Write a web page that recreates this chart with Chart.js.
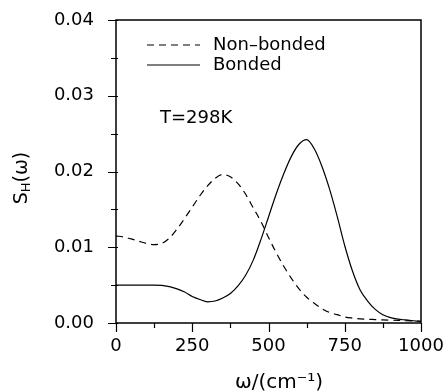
<!DOCTYPE html>
<html>
<head>
<meta charset="utf-8">
<script src="https://cdn.jsdelivr.net/npm/chart.js@4"></script>
<style>
  html, body { margin: 0; padding: 0; background: #fff; }
  #wrap { width: 443px; height: 391px; }
</style>
</head>
<body>
<div id="wrap"><canvas id="spec"></canvas></div>
<script>
// omega in cm^-1
var omega = [0, 25, 50, 75, 100, 125, 150, 175, 200, 225, 250, 275, 300, 325, 350, 375, 400,
  425, 450, 475, 500, 525, 550, 575, 600, 625, 650, 675, 700, 725, 750, 775, 800,
  825, 850, 875, 900, 925, 950, 975, 1000];

var nonBonded = [0.0115, 0.01135, 0.0111, 0.0108, 0.0105, 0.01035, 0.0105, 0.0112, 0.0124, 0.0138,
  0.0153, 0.0168, 0.0181, 0.0191, 0.0196, 0.0193, 0.0184, 0.0170, 0.0152, 0.0134,
  0.0113, 0.0093, 0.0075, 0.0059, 0.0045, 0.0034, 0.0026, 0.0019, 0.0014, 0.0011,
  0.0008, 0.00065, 0.00055, 0.0005, 0.00045, 0.0004, 0.00037, 0.00035, 0.0003, 0.00027, 0.00025];

var bonded = [0.0050, 0.0050, 0.0050, 0.0050, 0.0050, 0.0050, 0.00498, 0.0048, 0.0045, 0.0041,
  0.0035, 0.0031, 0.0028, 0.0029, 0.0033, 0.0039, 0.0049, 0.0063, 0.0083, 0.0110,
  0.0140, 0.0170, 0.0197, 0.0220, 0.0236, 0.0242, 0.0230, 0.0207, 0.0177, 0.0141,
  0.0102, 0.0069, 0.0044, 0.0029, 0.0018, 0.0011, 0.0007, 0.0005, 0.0004, 0.0003, 0.0002];

var yTicks = [0, 0.01, 0.02, 0.03, 0.04];
var xTicks = [0, 250, 500, 750, 1000];

var FONT = 'DejaVu Sans';

function pts(ys) {
  return omega.map(function (w, i) { return { x: w, y: ys[i] }; });
}

function noPad(s) {
  s.paddingTop = 0; s.paddingBottom = 0; s.paddingLeft = 0; s.paddingRight = 0;
}

var extras = {
  id: 'extras',
  afterDraw: function (chart) {
    var c = chart.ctx, a = chart.chartArea;
    var xs = chart.scales.x, ys = chart.scales.y;
    c.save();
    c.strokeStyle = '#000';
    c.lineWidth = 1.5;
    c.strokeRect(a.left, a.top, a.right - a.left, a.bottom - a.top);

    // tick marks
    c.lineWidth = 1.2;
    c.beginPath();
    for (var v = 0; v <= 0.04001; v += 0.005) {
      var py = Math.round(ys.getPixelForValue(v)) + 0.5;
      var major = Math.abs(v / 0.01 - Math.round(v / 0.01)) < 1e-6;
      c.moveTo(a.left - (major ? 8 : 5), py);
      c.lineTo(a.left + 2, py);
    }
    for (var w = 0; w <= 1000; w += 125) {
      var px = Math.round(xs.getPixelForValue(w)) + 0.5;
      c.moveTo(px, a.bottom);
      c.lineTo(px, a.bottom + (w % 250 === 0 ? 9 : 5));
    }
    c.stroke();

    // legend
    c.fillStyle = '#000';
    c.font = '18px "' + FONT + '"';
    c.textBaseline = 'middle';
    c.textAlign = 'left';
    chart.data.datasets.forEach(function (ds, i) {
      var ly = 45 + i * 20;
      c.setLineDash(ds.borderDash || []);
      c.lineWidth = ds.borderWidth;
      c.beginPath();
      c.moveTo(147, ly);
      c.lineTo(200, ly);
      c.stroke();
      c.setLineDash([]);
      c.fillText(ds.label, 213, ly);
    });

    c.fillText('T=298K', 160, 118);

    // x title
    c.font = '20px "' + FONT + '"';
    c.textAlign = 'center';
    c.fillText('\u03c9/(cm\u207b\u00b9)', 279, 383);

    // y title, rotated, with subscript
    c.translate(22, 178);
    c.rotate(-Math.PI / 2);
    c.textAlign = 'left';
    var s = 'S', h = 'H', tail = '(\u03c9)';
    c.font = '19px "' + FONT + '"';
    var ws = c.measureText(s).width;
    c.font = '13px "' + FONT + '"';
    var wh = c.measureText(h).width;
    c.font = '19px "' + FONT + '"';
    var wt = c.measureText(tail).width;
    var x0 = -(ws + wh + wt) / 2;
    c.fillText(s, x0, 0);
    c.font = '13px "' + FONT + '"';
    c.fillText(h, x0 + ws, 5);
    c.font = '19px "' + FONT + '"';
    c.fillText(tail, x0 + ws + wh, 0);
    c.restore();
  }
};

var ctx = document.getElementById('spec').getContext('2d');
var chart = new Chart(ctx, {
  type: 'line',
  data: {
    datasets: [{
      label: 'Non\u2013bonded',
      data: pts(nonBonded),
      borderColor: '#000',
      borderWidth: 1.2,
      borderDash: [7, 5],
      pointRadius: 0,
      fill: false,
      cubicInterpolationMode: 'monotone'
    }, {
      label: 'Bonded',
      data: pts(bonded),
      borderColor: '#000',
      borderWidth: 1.2,
      pointRadius: 0,
      fill: false,
      cubicInterpolationMode: 'monotone'
    }]
  },
  options: {
    responsive: true,
    maintainAspectRatio: false,
    animation: false,
    layout: { padding: { left: 0, right: 22, top: 20, bottom: 0 } },
    plugins: { legend: { display: false }, tooltip: { enabled: false } },
    scales: {
      x: {
        type: 'linear',
        min: 0, max: 1000,
        grid: { display: false, drawTicks: false },
        border: { display: false },
        afterBuildTicks: function (s) { s.ticks = xTicks.map(function (v) { return { value: v }; }); },
        afterFit: function (s) { s.height = 68; noPad(s); },
        ticks: {
          autoSkip: false, maxRotation: 0, padding: 13, color: '#000',
          font: { family: FONT, size: 18 },
          callback: function (v) { return String(v); }
        }
      },
      y: {
        min: 0, max: 0.04,
        grid: { display: false, drawTicks: false },
        border: { display: false },
        afterBuildTicks: function (s) { s.ticks = yTicks.map(function (v) { return { value: v }; }); },
        afterFit: function (s) { s.width = 116; noPad(s); },
        ticks: {
          autoSkip: false, padding: 22, color: '#000',
          font: { family: FONT, size: 18 },
          callback: function (v) { return v.toFixed(2); }
        }
      }
    }
  },
  plugins: [extras]
});
</script>
</body>
</html>
